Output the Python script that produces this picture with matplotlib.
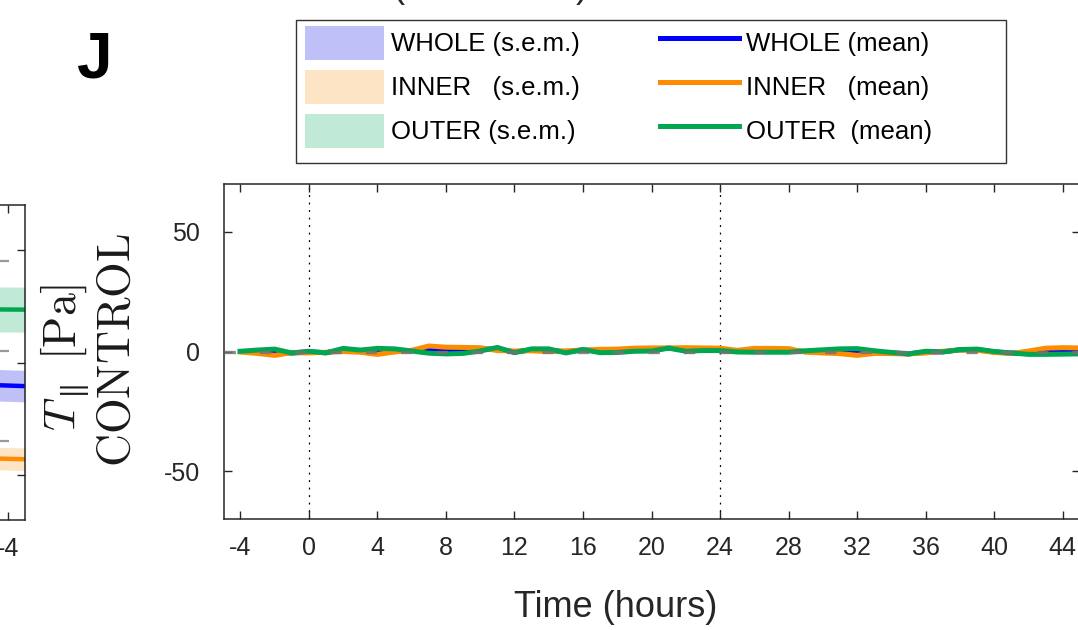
import matplotlib
matplotlib.use("Agg")
import matplotlib.pyplot as plt
from matplotlib.patches import Patch, Rectangle
from matplotlib.lines import Line2D

plt.rcParams['font.family'] = ['Liberation Sans', 'DejaVu Sans']
plt.rcParams['mathtext.fontset'] = 'cm'
plt.rcParams['axes.unicode_minus'] = False

# ---- data ----
hours = list(range(-4, 46))

whole_mean = [0.0, -0.1, -0.3, -0.6, -0.2, -0.5, 0.7, 0.2, 0.1, 0.5,
              0.4, 0.7, 0.4, 0.4, 0.9, 1.1, -0.2, 0.7, 0.6, -0.2,
              0.7, 0.2, 0.3, 0.7, 0.8, 1.4, 0.8, 0.9, 0.9, 0.1,
              0.5, 0.5, 0.4, 0.0, 0.1, 0.1, -0.2, -0.2, -0.6, -1.0,
              -0.2, -0.1, 0.7, 0.8, -0.2, -0.7, -0.5, 0.1, 0.2, 0.2]
inner_mean = [-0.2, -0.8, -1.6, -0.5, -0.6, -0.3, 0.0, -0.3, -1.2, -0.2,
              0.5, 2.3, 1.8, 1.7, 1.6, 0.4, 0.2, 0.3, 0.0, 0.3,
              0.6, 0.9, 1.0, 1.4, 1.5, 1.5, 1.6, 1.5, 1.4, 0.5,
              1.3, 1.3, 1.2, -0.3, -0.6, -0.9, -1.6, -0.8, -0.9, -1.0,
              -0.6, 0.1, 0.6, 0.5, -0.4, -0.8, 0.2, 1.4, 1.6, 1.5]
outer_mean = [0.1, 0.6, 1.0, -0.6, 0.1, -0.6, 1.3, 0.6, 1.3, 1.1,
              0.2, -0.7, -1.0, -0.8, 0.2, 1.7, -0.5, 1.1, 1.1, -0.6,
              0.8, -0.5, -0.4, 0.1, 0.2, 1.4, 0.1, 0.4, 0.4, -0.2,
              -0.3, -0.3, -0.3, 0.3, 0.7, 1.1, 1.2, 0.3, -0.4, -1.0,
              0.1, -0.2, 0.8, 1.0, 0.0, -0.6, -1.2, -1.2, -1.1, -1.0]
whole_sem = 0.5
inner_sem = 0.8
outer_sem = 0.6

# neighbouring panel (only its right edge is visible)
left_hours = [-9, -7, -5, -3]
left_whole = [-9.0, -9.5, -10.0, -10.5]
left_inner = [-42.0, -42.3, -42.6, -43.0]
left_outer = [23.8, 23.7, 23.6, 23.5]
left_whole_sem = 7
left_inner_sem = 5
left_outer_sem = 10
left_ref_levels = [45, 5, -35]

event_hours = [0, 24]
xticks = list(range(-4, 45, 4))
yticks = [-50, 0, 50]

c_whole, c_inner, c_outer = '#0000ff', '#ff8c00', '#00a650'
f_whole, f_inner, f_outer = '#c0c0f8', '#fde4c4', '#c0ead6'
axcol = '0.15'

W, H = 1078, 630
fig = plt.figure(figsize=(W / 100, H / 100), dpi=100)


def style(ax):
    for s in ax.spines.values():
        s.set_color(axcol)
        s.set_linewidth(1.1)
    ax.tick_params(direction='in', length=5.8, width=1.0, color=axcol,
                   labelcolor=axcol, labelsize=18, top=True, right=True)


def bands(ax, x, series, lw):
    for m, s, c, f in series:
        lo = [v - s for v in m]
        hi = [v + s for v in m]
        ax.fill_between(x, lo, hi, color=f, lw=0, zorder=1)
    for m, s, c, f in series:
        ax.plot(x, m, color=c, lw=lw, zorder=2, solid_joinstyle='round')


# ---- left (cut off) panel ----
axl = fig.add_axes([(25 - 800) / W, 1 - 520 / H, 800 / W, 315 / H])
style(axl)
bands(axl, left_hours,
      [(left_whole, left_whole_sem, c_whole, f_whole),
       (left_outer, left_outer_sem, c_outer, f_outer),
       (left_inner, left_inner_sem, c_inner, f_inner)], 3.2)
for lev in left_ref_levels:
    axl.axhline(lev, color='0.6', lw=1.6, linestyle=(0, (4.5, 9.5)), zorder=0)
axl.set_xlim(-50, -3)
axl.set_ylim(-70, 70)
axl.set_xticks([-4])
axl.set_yticks(yticks)
axl.set_yticklabels([])
axl.tick_params(axis='x', pad=12)

# ---- main panel ----
ax = fig.add_axes([224 / W, 1 - 519 / H, 856 / W, 335 / H])
style(ax)
bands(ax, hours,
      [(whole_mean, whole_sem, c_whole, f_whole),
       (inner_mean, inner_sem, c_inner, f_inner),
       (outer_mean, outer_sem, c_outer, f_outer)], 3.6)
ax.axhline(0, color='0.45', alpha=0.85, lw=2.4, linestyle=(0, (3.4, 7.2)), zorder=3)
for e in event_hours:
    ax.axvline(e, color='black', lw=0.9, linestyle=(0, (1.5, 4.5)), zorder=0)
ax.set_xlim(-4.95, 45)
ax.set_ylim(-70, 70)
ax.set_xticks(xticks)
ax.set_yticks(yticks)
ax.tick_params(axis='y', pad=17)
ax.tick_params(axis='x', pad=12)

# axis labels
fig.text(616 / W, 1 - 617 / H, 'Time (hours)', fontsize=26, color=axcol,
         ha='center', va='baseline')
fig.text(65 / W, 1 - 357 / H, r'$T_{\parallel}\ [\mathrm{Pa}]$', fontsize=33,
         rotation=90, ha='center', va='center', color='0.1')
fig.text(118 / W, 1 - 350 / H, r'$\mathrm{CONTROL}$', fontsize=33,
         rotation=90, ha='center', va='center', color='0.1')

# panel letter
fig.text(95 / W, 1 - 77 / H, 'J', fontsize=46, fontweight='bold',
         ha='center', va='baseline')

# bottom of the label from the panel above
fig.text(393 / W, 1 + 3 / H, '(', fontsize=26, color=axcol, va='baseline')
fig.text(576 / W, 1 + 3 / H, ')', fontsize=26, color=axcol, va='baseline')

# legend
handles = [Patch(facecolor=f_whole, edgecolor='none'),
           Patch(facecolor=f_inner, edgecolor='none'),
           Patch(facecolor=f_outer, edgecolor='none'),
           Line2D([], [], color=c_whole, lw=3.6),
           Line2D([], [], color=c_inner, lw=3.6),
           Line2D([], [], color=c_outer, lw=3.6)]
labels = ['WHOLE (s.e.m.)', 'INNER   (s.e.m.)', 'OUTER (s.e.m.)',
          'WHOLE (mean)', 'INNER   (mean)', 'OUTER  (mean)']
fig.legend(handles, labels, ncol=2, loc='upper left',
           bbox_to_anchor=(297 / W, 1 - 18 / H), borderaxespad=0,
           frameon=False, fontsize=18.5, handlelength=3.1, handleheight=1.66,
           handletextpad=0.27, labelspacing=0.39, columnspacing=3.1,
           borderpad=0.3)
fig.patches.append(Rectangle((296 / W, 1 - 163 / H), 710 / W, 143 / H,
                             transform=fig.transFigure, fill=False,
                             edgecolor='0.2', lw=1.0))

fig.savefig('out.png', dpi=100)
